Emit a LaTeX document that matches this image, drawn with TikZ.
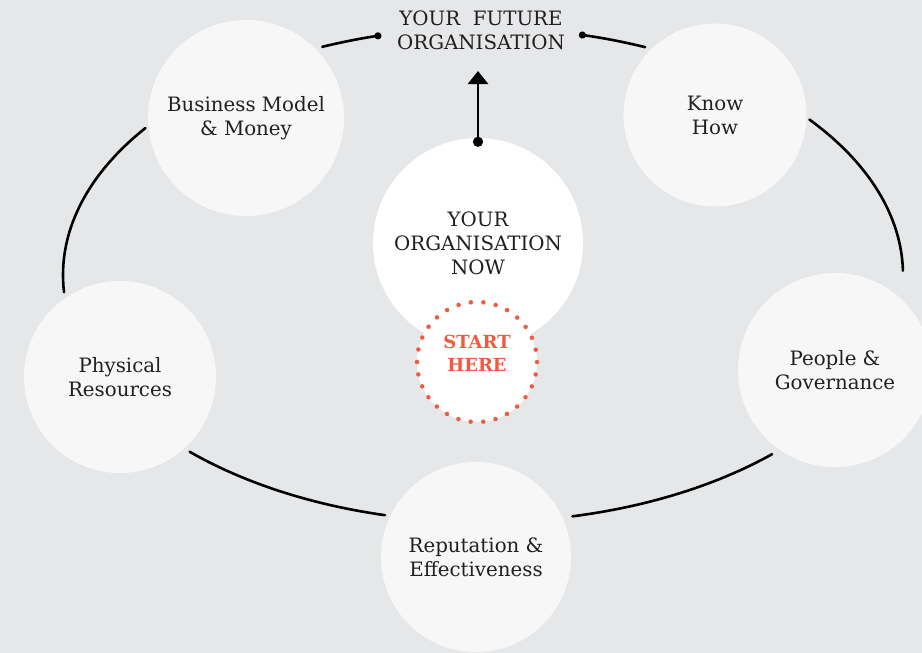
\documentclass[tikz,border=0pt]{standalone}
\usepackage{fontspec}
\setmainfont{DejaVu Serif}
\usetikzlibrary{arrows.meta}

\definecolor{canvasgray}{HTML}{E6E7E8}
\definecolor{bubblegray}{HTML}{F7F7F7}
\definecolor{inkgray}{HTML}{231F20}
\definecolor{startred}{HTML}{F15A3F}

\begin{document}
\begin{tikzpicture}[x=1pt, y=-1pt,
  bubble/.style={circle, fill=bubblegray, inner sep=0pt, align=center,
    text=inkgray, font=\fontsize{19.8}{24}\selectfont},
  ringline/.style={line width=2.6pt, line cap=round},
  flow/.style={line width=2.8pt, {Circle[length=10pt]}-{Triangle[width=20pt, length=13pt]}},
  dotring/.style={draw=startred, line width=4.5pt, line cap=round,
    dash pattern=on 0pt off 12.57pt}
]

%% --- canvas ---
\fill[canvasgray] (0,0) rectangle (922,653);
\useasboundingbox (0,0) rectangle (922,653);

%% --- outer bubbles ---
\node[bubble, minimum size=196pt] (bizmodel)   at (246,118) {Business Model\\\& Money};
\node[bubble, minimum size=183pt] (knowhow)    at (715,115) {Know\\How};
\node[bubble, minimum size=192pt] (physical)   at (120,377) {Physical\\Resources};
\node[bubble, minimum size=194pt] (people)     at (835,370) {People \&\\Governance};
\node[bubble, minimum size=190pt] (reputation) at (476,557) {Reputation \&\\Effectiveness};

%% --- centre bubble and start marker ---
\node[bubble, fill=white, minimum size=210pt] (orgnow) at (478,243)
  {YOUR\\ORGANISATION\\NOW};
\fill[white] (477,362) circle (60);
\draw[dotring] (477,362) circle (60);
\node[text=startred, align=center, font=\fontsize{18}{23}\selectfont\bfseries]
  (starthere) at (477,353) {START\\HERE};

%% --- goal label ---
\node[align=center, text=inkgray, font=\fontsize{19.8}{24}\selectfont]
  (future) at (481,30) {YOUR\ \ FUTURE\\ORGANISATION};

%% --- ring around the bubbles ---
\coordinate (ring) at (483,275);
\draw[ringline, -{Circle[length=7pt]}] (ring) ++(-112.5:420 and 247)
  arc[start angle=-112.5, end angle=-104, x radius=420, y radius=247];
\draw[ringline, {Circle[length=7pt]}-] (ring) ++(-76.8:420 and 247)
  arc[start angle=-76.8, end angle=-67.3, x radius=420, y radius=247];
\draw[ringline] (ring) ++(-39:420 and 247)
  arc[start angle=-39, end angle=-1, x radius=420, y radius=247];
\draw[ringline] (ring) ++(46.5:420 and 247)
  arc[start angle=46.5, end angle=77.7, x radius=420, y radius=247];
\draw[ringline] (ring) ++(103.5:420 and 247)
  arc[start angle=103.5, end angle=134.3, x radius=420, y radius=247];
\draw[ringline] (ring) ++(176:420 and 247)
  arc[start angle=176, end angle=216.5, x radius=420, y radius=247];

%% --- now to future ---
\draw[flow] ([yshift=-9pt]orgnow.north) -- ([yshift=-18pt]orgnow.north |- future.south);

\end{tikzpicture}
\end{document}
